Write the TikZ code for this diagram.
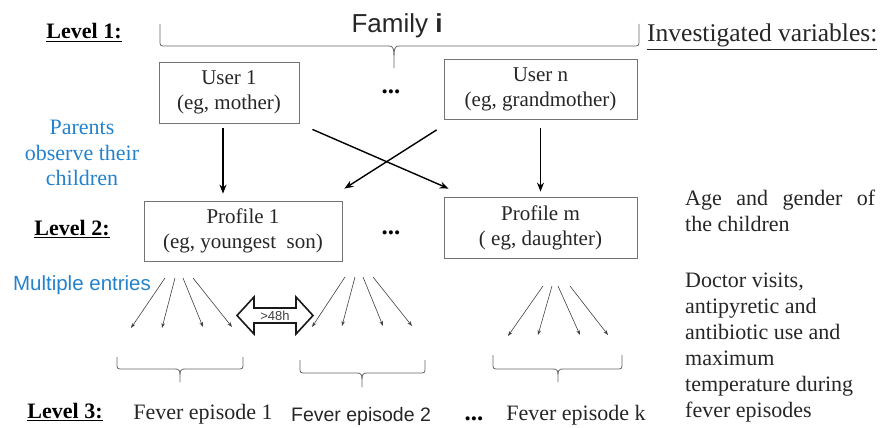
\documentclass[tikz,border=0pt]{standalone}
\usepackage{fontspec}
\setmainfont{Liberation Serif}
\setsansfont{Liberation Sans}
\usetikzlibrary{arrows.meta}
\definecolor{obsblue}{RGB}{36,130,204}
\newcommand{\hbr}[6]{% x1,x2,xm,top,bot,tip
  \draw[bracestyle] (#1,#4) -- (#1,#5-6) .. controls (#1,#5) .. (#1+6,#5) -- (#3-6,#5)
    .. controls (#3,#5) .. (#3,#6) .. controls (#3,#5) .. (#3+6,#5) -- (#2-6,#5)
    .. controls (#2,#5) .. (#2,#5-6) -- (#2,#4);}
\begin{document}
\begin{tikzpicture}[x=1pt,y=-1pt,
  box/.style={draw=black!55,line width=0.8pt,inner sep=0pt,align=center,
    font=\rmfamily\fontsize{21}{25}\selectfont,text=black!85},
  lvl/.style={font=\rmfamily\bfseries\fontsize{22}{25}\selectfont,anchor=base,inner sep=0pt},
  serif22/.style={font=\rmfamily\fontsize{22}{26}\selectfont,text=black!85,inner sep=0pt},
  dots/.style={font=\rmfamily\bfseries\fontsize{25}{26}\selectfont,inner sep=0pt},
  bigarr/.style={-{Stealth[length=9pt,width=7pt]},line width=1.4pt},
  fan/.style={-{Stealth[length=5pt,width=3.5pt]},line width=0.6pt,draw=black!75},
  bracestyle/.style={draw=black!60,line width=0.8pt,line join=round},
]
\useasboundingbox (0,0) rectangle (884,428);

% top level
\node[font=\sffamily\fontsize{26}{30}\selectfont,anchor=base,inner sep=0pt,text=black!85] (fam) at (397,33) {Family \textbf{i}};
\hbr{160}{639}{394}{24}{46}{68}

\node[lvl] (l1) at (84,39) {\underline{Level 1:}};
\node[lvl] (l2) at (72,235) {\underline{Level 2:}};
\node[lvl] (l3) at (65,418) {\underline{Level 3:}};

% users
\node[box,minimum width=140pt,minimum height=61pt] (u1) at (229,92.5) {User 1\\(eg, mother)};
\node[box,minimum width=193pt,minimum height=60pt] (un) at (540.5,89.5) {User n\\(eg, grandmother)};
\node[dots] (d1) at (391,92) {...};

% profiles
\node[box,minimum width=198pt,minimum height=60pt] (p1) at (243,231) {Profile 1\\(eg, youngest\ \ son)};
\node[box,minimum width=193pt,minimum height=61pt] (pm) at (540.5,227.5) {Profile m\\(\ eg, daughter)};
\node[dots] (d2) at (391,233) {...};

% blue notes
\node[font=\rmfamily\fontsize{22}{25.5}\selectfont,text=obsblue,align=center,anchor=north,inner sep=0pt] (par) at (82,120) {Parents\\observe their\\children};
\node[font=\sffamily\fontsize{20.5}{24}\selectfont,text=obsblue,anchor=base,inner sep=0pt] (mult) at (82,290) {Multiple entries};

% user -> profile arrows
\draw[bigarr,line width=1.2pt] ([xshift=-6pt,yshift=-5pt]u1.south) -- ([xshift=-20pt,yshift=7pt]p1.north);
\draw[bigarr,line width=1.2pt] ([yshift=-8pt]un.south) -- ([yshift=5pt]pm.north);
\draw[bigarr] ([xshift=13pt,yshift=-6pt]u1.south east) -- ([xshift=5pt,yshift=8pt]pm.north west);
\draw[bigarr] ([xshift=-7pt,yshift=-10pt]un.south west) -- ([xshift=2pt,yshift=12pt]p1.north east);

% fan arrows (multiple entries)
\foreach \sx/\sy/\ex/\ey [count=\i] in {
  165/278/131/328, 175/278/162/328, 183/278/203/327, 193/278/232/327,
  345/277/312/327, 355/277/342/326, 363/277/383/326, 373/277/412/326,
  543/286/508/336, 552/286/538/335, 558/286/580/335, 570/286/608/335}{
  \coordinate (fs\i) at (\sx,\sy);
  \coordinate (fe\i) at (\ex,\ey);
  \draw[fan] (fs\i) -- (fe\i);
}

% >48h double arrow
\draw[line width=1.6pt,line join=miter,draw=black!90]
  (237,315.5) -- (254,297) -- (254,308) -- (296,308) -- (296,297) -- (313,315.5)
  -- (296,334) -- (296,323) -- (254,323) -- (254,334) -- cycle;
\node[font=\sffamily\fontsize{13}{14}\selectfont,text=black!75,inner sep=0pt] (gap) at (275,316) {>48h};

% bottom braces
\hbr{117}{243}{180}{357}{369}{382}
\hbr{300}{425}{362}{360}{373}{387}
\hbr{493}{622}{558}{355}{369}{382}

% episodes
\node[serif22,anchor=base] (e1) at (203,419) {Fever episode 1};
\node[font=\sffamily\fontsize{19.5}{24}\selectfont,text=black!85,anchor=base,inner sep=0pt] (e2) at (361,421) {Fever episode 2};
\node[dots,anchor=base] (d3) at (474,420) {...};
\node[serif22,anchor=base] (ek) at (576,420) {Fever episode k};

% investigated variables
\node[font=\rmfamily\fontsize{25.5}{28}\selectfont,text=black!85,anchor=base west,inner sep=0pt] (iv) at (647,42) {\underline{Investigated variables:}};
\node[serif22,anchor=north west,align=left] (age) at (685,190)
  {\hbox to 190pt{Age\hfill and\hfill gender\hfill of}\\the children};
\node[font=\rmfamily\fontsize{22}{26}\selectfont,text=black!85,inner sep=0pt,anchor=north west,align=left] (doc) at (685,273)
  {Doctor visits,\\antipyretic and\\antibiotic use and\\maximum\\temperature during\\fever episodes};
\end{tikzpicture}
\end{document}
